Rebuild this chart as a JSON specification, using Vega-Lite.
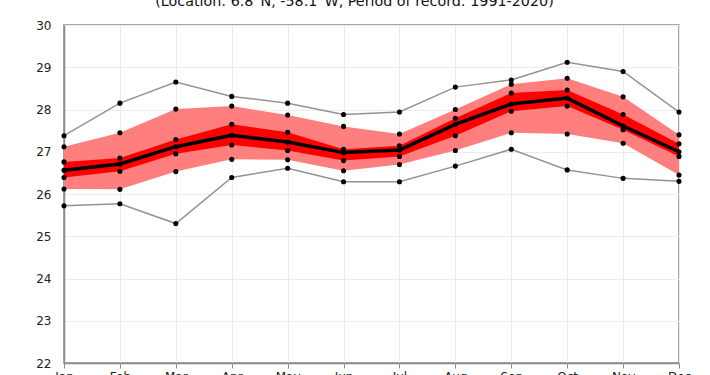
{
  "$schema": "https://vega.github.io/schema/vega-lite/v6.json",
  "autosize": "none",
  "width": 615,
  "height": 338,
  "padding": {"left": 64, "top": 25, "right": 31, "bottom": 12},
  "background": "white",
  "title": {
    "text": "(Location: 6.8°N, -58.1°W, Period of record: 1991-2020)",
    "font": "DejaVu Sans",
    "fontSize": 14.3,
    "fontWeight": "normal",
    "color": "#111",
    "anchor": "middle",
    "frame": "group",
    "baseline": "bottom",
    "offset": 0,
    "dy": 4,
    "dx": -17
  },
  "config": {
    "view": {"stroke": "#8a8a8a", "strokeWidth": 1.5},
    "axis": {
      "labelFont": "DejaVu Sans",
      "labelFontSize": 12,
      "labelColor": "#222",
      "gridColor": "#ececec",
      "gridWidth": 1,
      "domainColor": "#8a8a8a",
      "domainWidth": 1.5,
      "tickColor": "#8a8a8a",
      "title": null
    }
  },
  "data": {
    "values": [
      {"month": "Jan", "min": 25.72, "p10": 26.12, "p25": 26.39, "med": 26.56, "p75": 26.76, "p90": 27.12, "max": 27.38},
      {"month": "Feb", "min": 25.77, "p10": 26.11, "p25": 26.54, "med": 26.71, "p75": 26.85, "p90": 27.45, "max": 28.15},
      {"month": "Mar", "min": 25.30, "p10": 26.53, "p25": 26.95, "med": 27.12, "p75": 27.29, "p90": 28.01, "max": 28.65},
      {"month": "Apr", "min": 26.39, "p10": 26.82, "p25": 27.16, "med": 27.39, "p75": 27.65, "p90": 28.08, "max": 28.31},
      {"month": "May", "min": 26.61, "p10": 26.81, "p25": 27.03, "med": 27.23, "p75": 27.46, "p90": 27.87, "max": 28.15},
      {"month": "Jun", "min": 26.29, "p10": 26.55, "p25": 26.79, "med": 26.98, "p75": 27.06, "p90": 27.60, "max": 27.88},
      {"month": "Jul", "min": 26.29, "p10": 26.70, "p25": 26.89, "med": 27.04, "p75": 27.14, "p90": 27.42, "max": 27.94},
      {"month": "Aug", "min": 26.66, "p10": 27.03, "p25": 27.38, "med": 27.65, "p75": 27.79, "p90": 28.00, "max": 28.53},
      {"month": "Sep", "min": 27.06, "p10": 27.45, "p25": 27.96, "med": 28.13, "p75": 28.39, "p90": 28.60, "max": 28.70},
      {"month": "Oct", "min": 26.57, "p10": 27.42, "p25": 28.08, "med": 28.27, "p75": 28.46, "p90": 28.74, "max": 29.12},
      {"month": "Nov", "min": 26.37, "p10": 27.20, "p25": 27.52, "med": 27.61, "p75": 27.88, "p90": 28.30, "max": 28.90},
      {"month": "Dec", "min": 26.30, "p10": 26.45, "p25": 26.89, "med": 27.00, "p75": 27.19, "p90": 27.40, "max": 27.94}
    ]
  },
  "encoding": {
    "x": {
      "field": "month",
      "type": "ordinal",
      "sort": ["Jan","Feb","Mar","Apr","May","Jun","Jul","Aug","Sep","Oct","Nov","Dec"],
      "scale": {"type": "point", "padding": 0},
      "axis": {"labelAngle": 0, "grid": true, "ticks": true, "tickSize": 5, "labelPadding": 3, "domain": true}
    }
  },
  "layer": [
    {
      "mark": {"type": "area", "color": "#ff7f7f", "opacity": 1},
      "encoding": {
        "y": {"field": "p10", "type": "quantitative", "scale": {"domain": [22, 30], "nice": false, "zero": false},
              "axis": {"values": [22,23,24,25,26,27,28,29,30], "ticks": false, "labelPadding": 13, "grid": true, "domain": true}},
        "y2": {"field": "p90"}
      }
    },
    {
      "mark": {"type": "area", "color": "#ff0000", "opacity": 1},
      "encoding": {
        "y": {"field": "p25", "type": "quantitative"},
        "y2": {"field": "p75"}
      }
    },
    {
      "mark": {"type": "line", "color": "#939393", "strokeWidth": 1.5},
      "encoding": {"y": {"field": "min", "type": "quantitative"}}
    },
    {
      "mark": {"type": "line", "color": "#939393", "strokeWidth": 1.5},
      "encoding": {"y": {"field": "max", "type": "quantitative"}}
    },
    {
      "mark": {"type": "line", "color": "#000000", "strokeWidth": 3.5},
      "encoding": {"y": {"field": "med", "type": "quantitative"}}
    },
    {
      "transform": [{"fold": ["min","p10","p25","med","p75","p90","max"], "as": ["stat","value"]}],
      "mark": {"type": "circle", "color": "#000000", "size": 26, "opacity": 1},
      "encoding": {"y": {"field": "value", "type": "quantitative"}}
    }
  ]
}
